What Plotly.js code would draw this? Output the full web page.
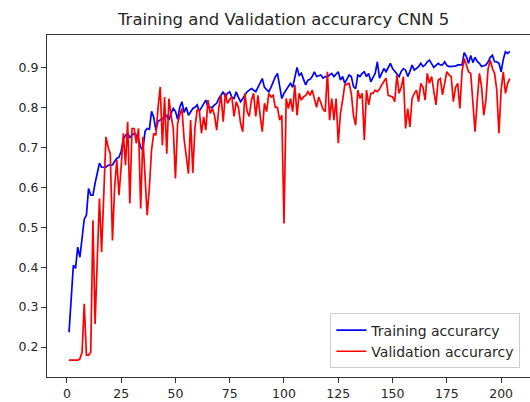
<!DOCTYPE html>
<html>
<head>
<meta charset="utf-8">
<script src="https://cdn.plot.ly/plotly-3.0.1.min.js"></script>
<style>html,body{margin:0;padding:0;background:#fff;}#chart{width:530px;height:402px;}</style>
</head>
<body>
<div id="chart"></div>
<script>
const chartTitle = "Training and Validation accurarcy CNN 5";
const seriesNames = ["Training accurarcy", "Validation accurarcy"];
const xTickVals = [0, 25, 50, 75, 100, 125, 150, 175, 200];
const yTickVals = [0.2, 0.3, 0.4, 0.5, 0.6, 0.7, 0.8, 0.9];

const trainAcc = [
  0.237, 0.33, 0.405, 0.397, 0.45, 0.425, 0.48, 0.52, 0.53, 0.597,
  0.58, 0.58, 0.61, 0.635, 0.66, 0.65, 0.65, 0.65, 0.655, 0.655,
  0.656, 0.665, 0.672, 0.675, 0.69, 0.72, 0.73, 0.735, 0.725, 0.73,
  0.735, 0.73, 0.72, 0.70, 0.693, 0.74, 0.747, 0.745, 0.79, 0.775,
  0.743, 0.765, 0.768, 0.77, 0.775, 0.78, 0.768, 0.785, 0.797, 0.79,
  0.77, 0.80, 0.814, 0.787, 0.80, 0.78, 0.79, 0.797, 0.80, 0.806,
  0.79, 0.80, 0.81, 0.818, 0.80, 0.80, 0.80, 0.806, 0.81, 0.822,
  0.83, 0.839, 0.826, 0.835, 0.839, 0.825, 0.822, 0.839, 0.825, 0.814,
  0.822, 0.83, 0.839, 0.843, 0.847, 0.843, 0.839, 0.85, 0.86, 0.872,
  0.85, 0.845, 0.839, 0.85, 0.865, 0.876, 0.885, 0.85, 0.822, 0.835,
  0.845, 0.852, 0.86, 0.85, 0.875, 0.9, 0.88, 0.885, 0.87, 0.856,
  0.868, 0.87, 0.877, 0.889, 0.877, 0.88, 0.881, 0.873, 0.877, 0.877,
  0.881, 0.885, 0.877, 0.883, 0.889, 0.868, 0.877, 0.86, 0.87, 0.881,
  0.877, 0.852, 0.847, 0.881, 0.877, 0.885, 0.889, 0.877, 0.885, 0.864,
  0.875, 0.885, 0.914, 0.873, 0.885, 0.897, 0.889, 0.9, 0.91, 0.897,
  0.89, 0.885, 0.877, 0.89, 0.897, 0.893, 0.877, 0.89, 0.906, 0.893,
  0.897, 0.902, 0.91, 0.902, 0.906, 0.914, 0.918, 0.91, 0.9, 0.905,
  0.91, 0.906, 0.906, 0.914, 0.905, 0.902, 0.902, 0.903, 0.903, 0.906,
  0.906, 0.906, 0.937, 0.927, 0.91, 0.93, 0.912, 0.925, 0.915, 0.91,
  0.902, 0.904, 0.906, 0.914, 0.925, 0.93, 0.914, 0.914, 0.91, 0.889,
  0.92, 0.939, 0.935, 0.94
];

const valAcc = [
  0.167, 0.167, 0.167, 0.167, 0.167, 0.17, 0.187, 0.308, 0.18, 0.18,
  0.187, 0.517, 0.258, 0.417, 0.572, 0.438, 0.60, 0.726, 0.70, 0.684,
  0.467, 0.60, 0.668, 0.58, 0.65, 0.735, 0.655, 0.764, 0.559, 0.747,
  0.747, 0.71, 0.747, 0.547, 0.726, 0.61, 0.53, 0.60, 0.693, 0.735,
  0.73, 0.80, 0.851, 0.705, 0.826, 0.684, 0.822, 0.78, 0.747, 0.622,
  0.76, 0.78, 0.797, 0.72, 0.68, 0.634, 0.768, 0.636, 0.75, 0.793,
  0.793, 0.735, 0.776, 0.743, 0.818, 0.785, 0.797, 0.78, 0.743, 0.80,
  0.83, 0.764, 0.835, 0.81, 0.82, 0.826, 0.777, 0.814, 0.80, 0.76,
  0.739, 0.835, 0.79, 0.777, 0.818, 0.835, 0.777, 0.83, 0.78, 0.739,
  0.81, 0.789, 0.835, 0.826, 0.83, 0.80, 0.80, 0.768, 0.78, 0.509,
  0.822, 0.797, 0.822, 0.789, 0.856, 0.78, 0.835, 0.818, 0.826, 0.83,
  0.839, 0.83, 0.843, 0.82, 0.80, 0.826, 0.81, 0.795, 0.789, 0.889,
  0.768, 0.822, 0.768, 0.822, 0.71, 0.785, 0.818, 0.856, 0.858, 0.86,
  0.835, 0.78, 0.755, 0.843, 0.822, 0.835, 0.718, 0.843, 0.806, 0.835,
  0.835, 0.843, 0.839, 0.845, 0.856, 0.865, 0.873, 0.83, 0.828, 0.826,
  0.814, 0.881, 0.835, 0.85, 0.877, 0.747, 0.797, 0.751, 0.822, 0.835,
  0.843, 0.814, 0.86, 0.85, 0.818, 0.885, 0.86, 0.877, 0.84, 0.806,
  0.868, 0.872, 0.831, 0.86, 0.889, 0.881, 0.877, 0.814, 0.85, 0.86,
  0.797, 0.889, 0.922, 0.906, 0.889, 0.885, 0.818, 0.739, 0.818, 0.885,
  0.851, 0.78, 0.818, 0.897, 0.918, 0.897, 0.885, 0.843, 0.735, 0.843,
  0.889, 0.835, 0.86, 0.872
];

const epochs = trainAcc.map((_, i) => i + 1);

const tickFont = {family: "DejaVu Sans, sans-serif", size: 12.5, color: "#262626"};

const data = [
  {x: epochs, y: trainAcc, type: "scatter", mode: "lines", name: seriesNames[0],
   line: {color: "#0000ff", width: 1.7}},
  {x: epochs, y: valAcc, type: "scatter", mode: "lines", name: seriesNames[1],
   line: {color: "#ff0000", width: 1.7}}
];

const axisCommon = {
  showgrid: false, zeroline: false, showline: true, mirror: true,
  linecolor: "#333", linewidth: 1, ticks: "outside", ticklen: 5,
  tickcolor: "#333", tickwidth: 1, tickfont: tickFont
};

const layout = {
  width: 530, height: 402,
  margin: {l: 47, r: 0, t: 35, b: 25},
  paper_bgcolor: "#fff", plot_bgcolor: "#fff",
  font: tickFont,
  title: {text: chartTitle, font: {family: "DejaVu Sans, sans-serif", size: 16.5, color: "#262626"},
          x: 0.49, xref: "paper", y: 1, yref: "paper", yanchor: "bottom", pad: {b: 10}},
  xaxis: Object.assign({}, axisCommon, {range: [-9.15, 213.3], tickvals: xTickVals}),
  yaxis: Object.assign({}, axisCommon, {range: [0.125, 0.981], tickvals: yTickVals, tickformat: ".1f"}),
  showlegend: true,
  legend: {x: 0.98, y: 0.025, xanchor: "right", yanchor: "bottom",
           bgcolor: "rgba(255,255,255,0.9)", bordercolor: "#cccccc", borderwidth: 1,
           font: {family: "DejaVu Sans, sans-serif", size: 14, color: "#262626"},
           itemwidth: 30, tracegroupgap: 0}
};

Plotly.newPlot("chart", data, layout, {displayModeBar: false, staticPlot: true});
</script>
</body>
</html>
